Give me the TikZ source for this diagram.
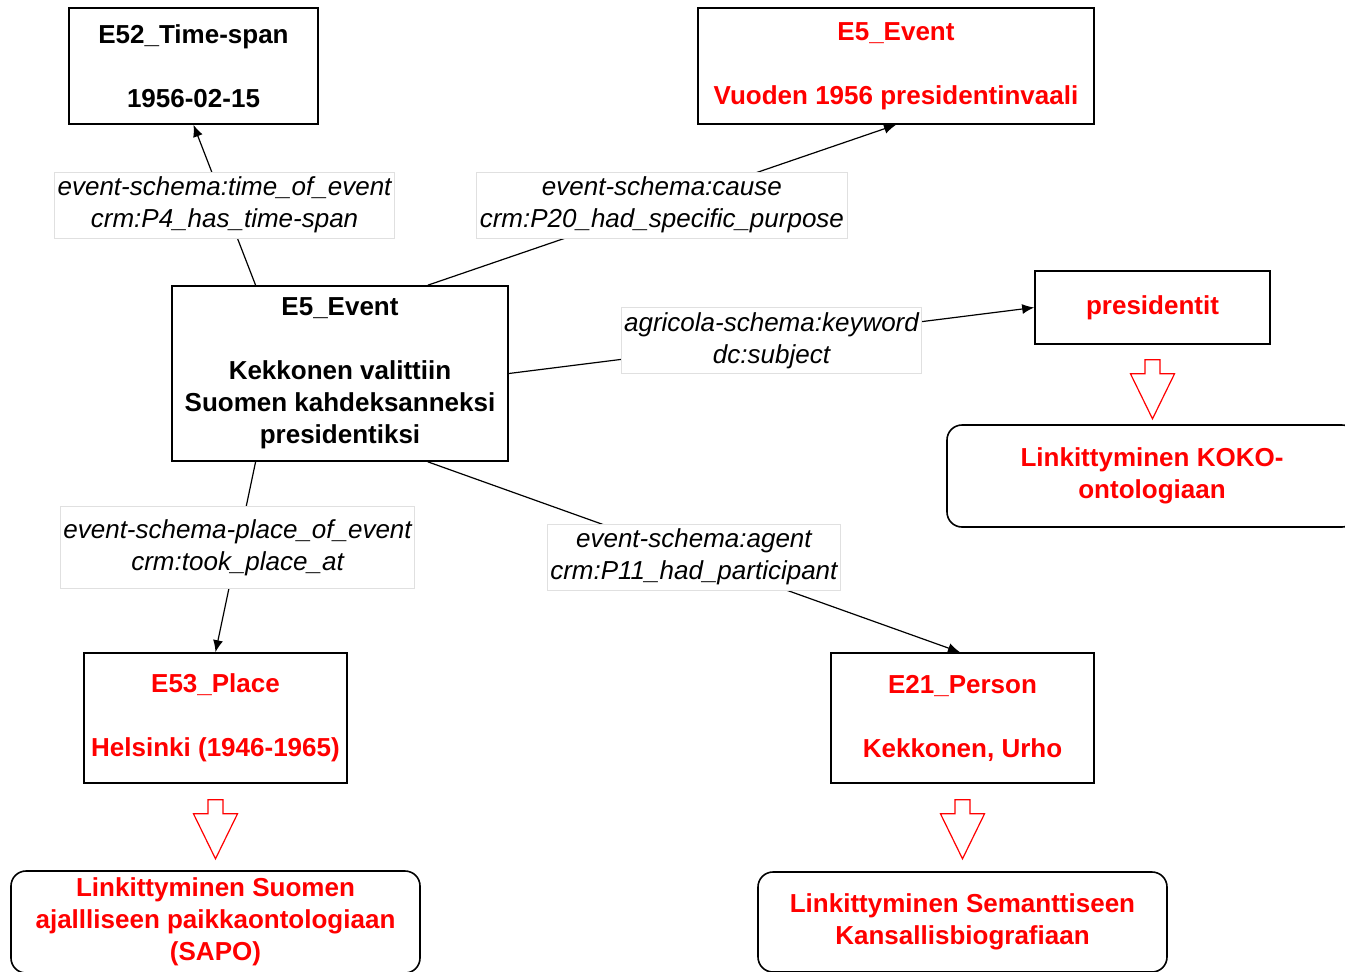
\documentclass[tikz,border=0pt]{standalone}
\usepackage{fontspec}
\setmainfont{Liberation Sans}
\usetikzlibrary{arrows.meta,calc}

\tikzset{
  ClassBox/.style  = {draw, line width=0.8pt, align=center, inner sep=0pt,
                      font=\fontsize{13}{16}\selectfont\bfseries},
  LinkBox/.style   = {ClassBox, rounded corners=7.5pt, text=red},
  EdgeLabel/.style = {draw=black!12, line width=0.5pt, fill=white, align=center,
                      inner xsep=1.5pt, inner ysep=0pt, minimum height=33pt,
                      font=\fontsize{13}{16}\selectfont\itshape},
  EdgeStyle/.style = {line width=0.6pt, -{Latex[length=6pt,width=5pt]}},
  DownArrow/.pic   = {\draw[red, fill=white, line width=0.6pt]
                      (-7.5,0) -- (7.5,0) -- (7.5,14) -- (22,14) -- (0,59)
                      -- (-22,14) -- (-7.5,14) -- cycle;}
}

\begin{document}
\begin{tikzpicture}[x=0.5pt, y=-0.5pt]
  \clip (0,0) rectangle (1345,971);
  % classes
  \node[ClassBox, minimum width=124.5pt, minimum height=58pt] (timespan) at (193.5,66)
       {E52\_Time-span\\[16pt]1956-02-15};
  \node[ClassBox, text=red, minimum width=198pt, minimum height=58pt] (cause) at (896,66)
       {E5\_Event\\[16pt]Vuoden 1956 presidentinvaali};
  \node[ClassBox, minimum width=168pt, minimum height=87.5pt] (ev) at (340,373.5)
       {E5\_Event\\[16pt]Kekkonen valittiin\\Suomen kahdeksanneksi\\presidentiksi};
  \node[ClassBox, text=red, minimum width=117.5pt, minimum height=36.5pt] (pres) at (1152.5,307.5)
       {presidentit};
  \node[ClassBox, text=red, minimum width=131.5pt, minimum height=65pt] (place) at (215.5,718)
       {E53\_Place\\[16pt]Helsinki (1946-1965)};
  \node[ClassBox, text=red, minimum width=131.5pt, minimum height=65pt] (person) at (962.5,718)
       {E21\_Person\\[16pt]Kekkonen, Urho};
  % links to outside ontologies
  \node[LinkBox, minimum width=205pt, minimum height=51pt] (koko) at (1152,476)
       {Linkittyminen KOKO-\\ontologiaan};
  \node[LinkBox, minimum width=204.5pt, minimum height=51pt] (sapo) at (215.5,922)
       {Linkittyminen Suomen\\ajallliseen paikkaontologiaan\\(SAPO)};
  \node[LinkBox, minimum width=204.5pt, minimum height=50pt] (kansallis) at (962.5,922)
       {Linkittyminen Semanttiseen\\Kansallisbiografiaan};

  \pic at ($(pres.south)+(0,15)$) {DownArrow};
  \pic at ($(place.south)+(0,16)$) {DownArrow};
  \pic at ($(person.south)+(0,16)$) {DownArrow};

  % properties
  \draw[EdgeStyle] ($(ev.north west)!0.25!(ev.north east)$) --
       node[EdgeLabel] {event-schema:time\_of\_event\\crm:P4\_has\_time-span} (timespan.south);
  \draw[EdgeStyle] ($(ev.north west)!0.76!(ev.north east)$) --
       node[EdgeLabel] {event-schema:cause\\crm:P20\_had\_specific\_purpose} (cause.south);
  \draw[EdgeStyle] (ev.east) --
       node[EdgeLabel] {agricola-schema:keyword\\dc:subject} (pres.west);
  \draw[EdgeStyle] ($(ev.south west)!0.25!(ev.south east)$) --
       node[EdgeLabel, pos=0.45, minimum height=41pt] {event-schema-place\_of\_event\\crm:took\_place\_at} (place.north);
  \draw[EdgeStyle] ($(ev.south west)!0.76!(ev.south east)$) --
       node[EdgeLabel] {event-schema:agent\\crm:P11\_had\_participant} ($(person.north)+(-2.5,0)$);
\end{tikzpicture}
\end{document}
